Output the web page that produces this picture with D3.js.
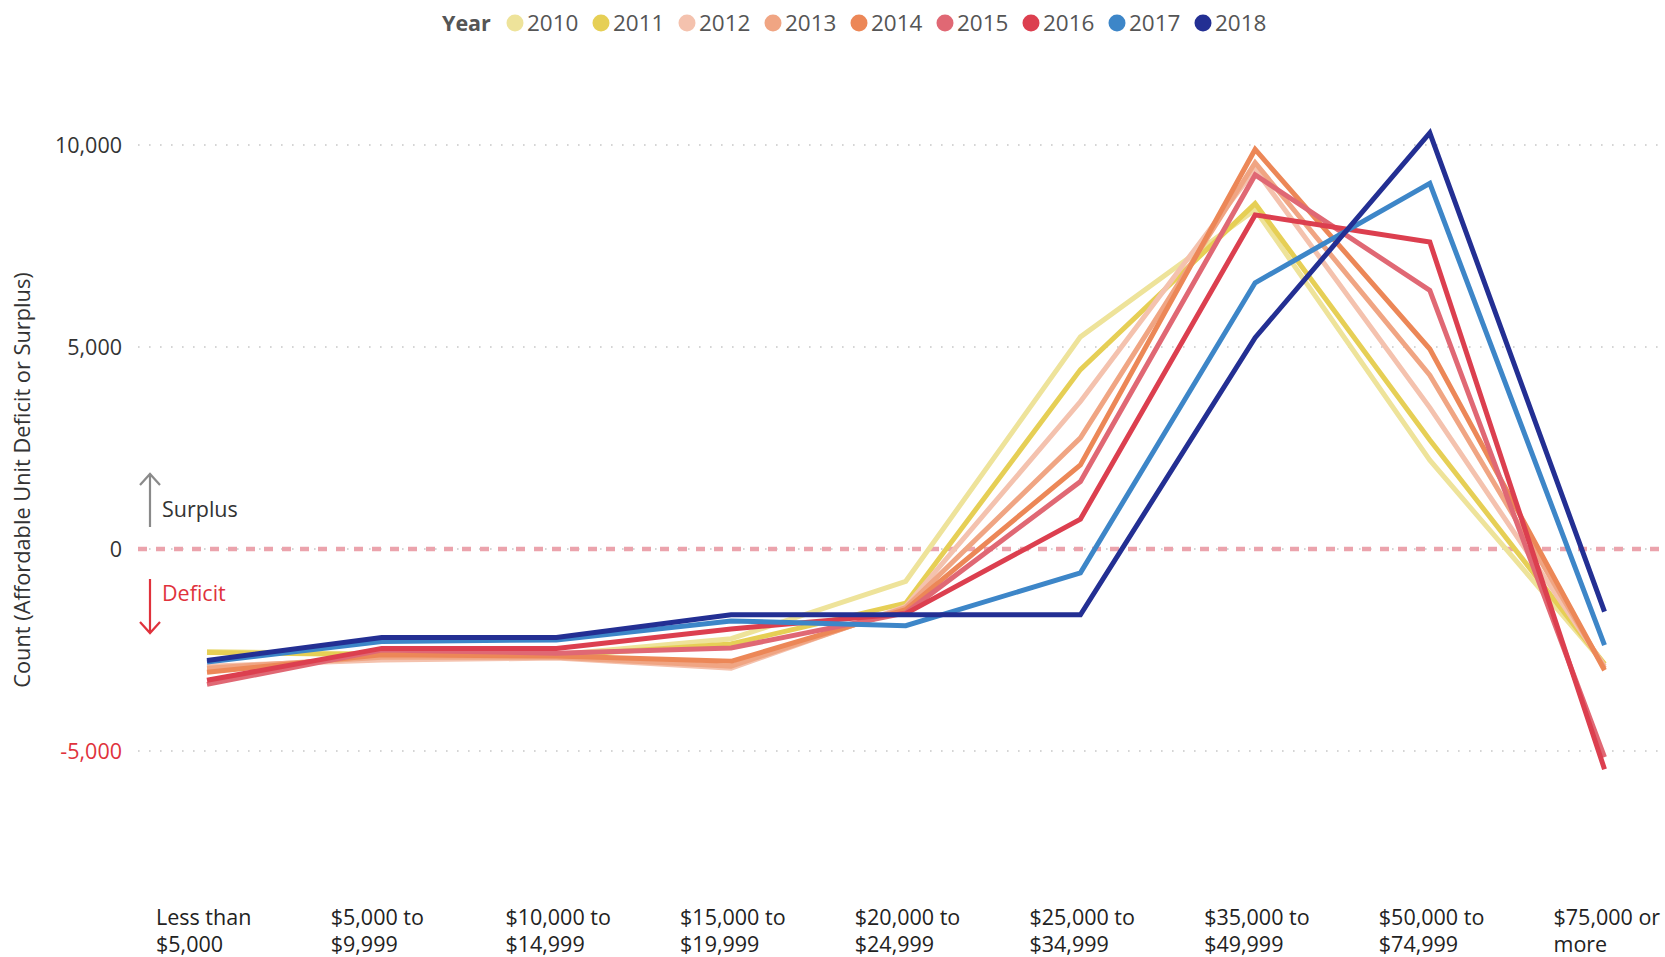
<!DOCTYPE html>
<html>
<head>
<meta charset="utf-8">
<script src="https://cdn.jsdelivr.net/npm/d3@7"></script>
<style>
  html, body { margin: 0; padding: 0; background: #fff; }
  svg { display: block; font-family: "Open Sans", sans-serif; }
</style>
</head>
<body>
<svg id="chart" width="1665" height="957"></svg>
<script>
// ---- data ----
const categories = [
  "Less than|$5,000", "$5,000 to|$9,999", "$10,000 to|$14,999", "$15,000 to|$19,999",
  "$20,000 to|$24,999", "$25,000 to|$34,999", "$35,000 to|$49,999", "$50,000 to|$74,999",
  "$75,000 or|more"
];
const years = ["2010", "2011", "2012", "2013", "2014", "2015", "2016", "2017", "2018"];
const colors = ["#EEE39A", "#E6CF55", "#F4C2AE", "#F0A583", "#EC8757", "#E06874", "#DC3F4F", "#3D86C8", "#232F93"];
const v2010 = [-2540, -2600, -2620, -2220, -800, 5250, 8400, 2200, -2850];
const v2011 = [-2560, -2620, -2640, -2350, -1340, 4440, 8550, 2700, -2850];
const v2012 = [-2900, -2750, -2700, -2950, -1420, 3650, 9400, 3500, -2900];
const v2013 = [-2950, -2680, -2680, -2900, -1450, 2750, 9560, 4300, -2950];
const v2014 = [-3050, -2620, -2650, -2780, -1500, 2080, 9890, 4950, -3000];
const v2015 = [-3350, -2500, -2580, -2450, -1580, 1670, 9260, 6400, -5150];
const v2016 = [-3250, -2460, -2460, -1980, -1600, 740, 8270, 7600, -5450];
const v2017 = [-2800, -2290, -2250, -1780, -1900, -590, 6590, 9050, -2380];
const v2018 = [-2760, -2190, -2190, -1630, -1630, -1630, 5230, 10300, -1550];
const seriesValues = [v2010, v2011, v2012, v2013, v2014, v2015, v2016, v2017, v2018];
const yTicks = [-5000, 0, 5000, 10000];
const yTitle = "Count (Affordable Unit Deficit or Surplus)";

// ---- scales ----
const svg = d3.select("#chart");
const x = d3.scalePoint().domain(categories).range([207, 1604.5]);
const y = d3.scaleLinear().domain([-5000, 10000]).range([751, 145]);
const FONT = 21.5;

const fmt = d3.format(",d");
const yAxis = d3.axisLeft(y).tickValues(yTicks).tickSize(0).tickPadding(0)
  .tickFormat(d => fmt(d).replace("\u2212", "-"));
const gy = svg.append("g").attr("transform", "translate(122,0)").call(yAxis);
gy.select(".domain").remove();
gy.selectAll("text")
  .attr("font-size", FONT).attr("font-family", "Open Sans")
  .attr("fill", d => d < 0 ? "#E0323C" : "#333")
  .attr("dy", "0.33em");

// gridlines (dotted)
svg.append("g").selectAll("line").data(yTicks).join("line")
  .attr("x1", 138).attr("x2", 1665)
  .attr("y1", d => y(d)).attr("y2", d => y(d))
  .attr("stroke", "#c8c8c8").attr("stroke-width", 1.6)
  .attr("stroke-dasharray", "1.6,9.4");

// zero reference dashed line
svg.append("line")
  .attr("x1", 138).attr("x2", 1665)
  .attr("y1", y(0)).attr("y2", y(0))
  .attr("stroke", "#EBA3AC").attr("stroke-width", 4.5)
  .attr("stroke-dasharray", "9,9");

// x axis labels
const gx = svg.append("g");
categories.forEach(c => {
  const t = gx.append("text")
    .attr("x", x(c) - 51).attr("y", 925)
    .attr("font-size", FONT).attr("fill", "#222");
  c.split("|").forEach((s, i) => {
    t.append("tspan").attr("x", x(c) - 51).attr("y", 925 + i * 26.5).text(s);
  });
});

// lines
const line = d3.line().x((d, i) => x(categories[i])).y(d => y(d));
svg.append("g").selectAll("path").data(seriesValues).join("path")
  .attr("d", d => line(d))
  .attr("fill", "none")
  .attr("stroke", (d, i) => colors[i])
  .attr("stroke-width", 5)
  .attr("stroke-linejoin", "miter")
  .attr("stroke-linecap", "butt");

// y title
svg.append("text")
  .attr("transform", "translate(30,480) rotate(-90)")
  .attr("text-anchor", "middle")
  .attr("font-size", 21.8).attr("fill", "#333")
  .text(yTitle);

// surplus / deficit annotations
const ann = svg.append("g");
ann.append("path").attr("d", "M150,527 L150,474 M140,485 L150,474 L160,485")
  .attr("fill", "none").attr("stroke", "#8a8a8a").attr("stroke-width", 2.2);
ann.append("text").attr("x", 162).attr("y", 517).attr("font-size", FONT).attr("fill", "#333").text("Surplus");
ann.append("path").attr("d", "M150,579 L150,633 M140,622 L150,633 L160,622")
  .attr("fill", "none").attr("stroke", "#E0323C").attr("stroke-width", 2.2);
ann.append("text").attr("x", 162).attr("y", 601).attr("font-size", FONT).attr("fill", "#E0323C").text("Deficit");

// legend
const lg = svg.append("g");
lg.append("text").attr("x", 442).attr("y", 31).attr("font-size", 21.5)
  .attr("font-weight", "bold").attr("fill", "#555").text("Year");
years.forEach((yr, i) => {
  const cx = 515 + i * 86;
  lg.append("circle").attr("cx", cx).attr("cy", 23).attr("r", 8.5).attr("fill", colors[i]);
  lg.append("text").attr("x", cx + 12).attr("y", 31).attr("font-size", 22.5)
    .attr("fill", "#555").text(yr);
});
</script>
</body>
</html>
